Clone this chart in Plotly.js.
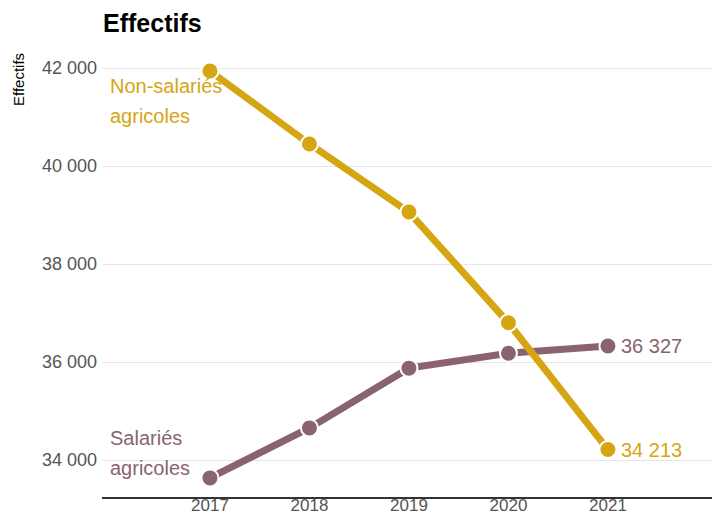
<!DOCTYPE html>
<html>
<head>
<meta charset="utf-8">
<script src="https://cdn.plot.ly/plotly-3.0.1.min.js"></script>
<style>html,body{margin:0;padding:0;background:#fff;}#chart{width:712px;height:517px;}</style>
</head>
<body>
<div id="chart"></div>
<script>
const years = [2017, 2018, 2019, 2020, 2021];
const nonSalaries = [41940, 40450, 39060, 36800, 34213];
const salaries = [33635, 34655, 35875, 36180, 36327];
const seriesNames = ["Non-salariés agricoles", "Salariés agricoles"];
const yTickVals = [34000, 36000, 38000, 40000, 42000];

const gold = "#D6A512";
const mauve = "#8A6373";
const fmt = v => String(v).replace(/\B(?=(\d{3})+(?!\d))/g, " ");

function trace(y, color, name) {
  return {
    x: years, y: y, name: name, type: "scatter", mode: "lines+markers",
    line: {color: color, width: 7},
    marker: {color: color, size: 17, line: {color: "#fff", width: 2}},
    hoverinfo: "skip", showlegend: false, cliponaxis: false
  };
}

const data = [trace(salaries, mauve, seriesNames[1]), trace(nonSalaries, gold, seriesNames[0])];

const font = "Liberation Sans, Arial, sans-serif";
const lblX = 2015.975;
const annotations = [
  {xref: "x", yref: "y", x: lblX, y: 41633, text: "Non-salariés", xanchor: "left", yanchor: "middle", showarrow: false, font: {family: font, size: 20, color: gold}},
  {xref: "x", yref: "y", x: lblX, y: 41020, text: "agricoles", xanchor: "left", yanchor: "middle", showarrow: false, font: {family: font, size: 20, color: gold}},
  {xref: "x", yref: "y", x: lblX, y: 34449, text: "Salariés", xanchor: "left", yanchor: "middle", showarrow: false, font: {family: font, size: 20, color: mauve}},
  {xref: "x", yref: "y", x: lblX, y: 33837, text: "agricoles", xanchor: "left", yanchor: "middle", showarrow: false, font: {family: font, size: 20, color: mauve}},
  {xref: "x", yref: "y", x: years[4], y: salaries[4], text: fmt(salaries[4]), xanchor: "left", yanchor: "middle", xshift: 11, showarrow: false, font: {family: font, size: 20, color: mauve}},
  {xref: "x", yref: "y", x: years[4], y: nonSalaries[4], text: fmt(nonSalaries[4]), xanchor: "left", yanchor: "middle", xshift: 11, showarrow: false, font: {family: font, size: 20, color: gold}},
  {xref: "paper", yref: "paper", x: 0, xshift: -84, y: 0.9205, text: "Effectifs", textangle: -90, xanchor: "center", yanchor: "middle", showarrow: false, font: {family: font, size: 15, color: "#000"}}
];

const layout = {
  width: 712, height: 517,
  margin: {l: 102, r: 0, t: 44, b: 20, pad: 0},
  paper_bgcolor: "#fff", plot_bgcolor: "#fff",
  separators: ", ",
  font: {family: font, color: "#555"},
  title: {text: "<b>Effectifs</b>", x: 103/712, xref: "container", xanchor: "left", y: 1 - 23/517, yref: "container", yanchor: "middle", font: {family: font, size: 25, color: "#000"}},
  xaxis: {
    range: [2015.915, 2022.046], tickvals: years, ticktext: years.map(String),
    showgrid: false, zeroline: false, showline: true, linecolor: "#333", linewidth: 1.5,
    ticks: "", ticklabelstandoff: -8, tickfont: {family: font, size: 17, color: "#555"}, fixedrange: true
  },
  yaxis: {
    range: [33245, 42490], tickvals: yTickVals, ticktext: yTickVals.map(fmt),
    showgrid: true, gridcolor: "#e6e6e6", gridwidth: 1, zeroline: false, showline: false,
    ticks: "", ticklabelstandoff: 4, tickfont: {family: font, size: 18, color: "#555"}, fixedrange: true
  },
  annotations: annotations,
  showlegend: false
};

Plotly.newPlot("chart", data, layout, {staticPlot: true, displayModeBar: false});
</script>
</body>
</html>
